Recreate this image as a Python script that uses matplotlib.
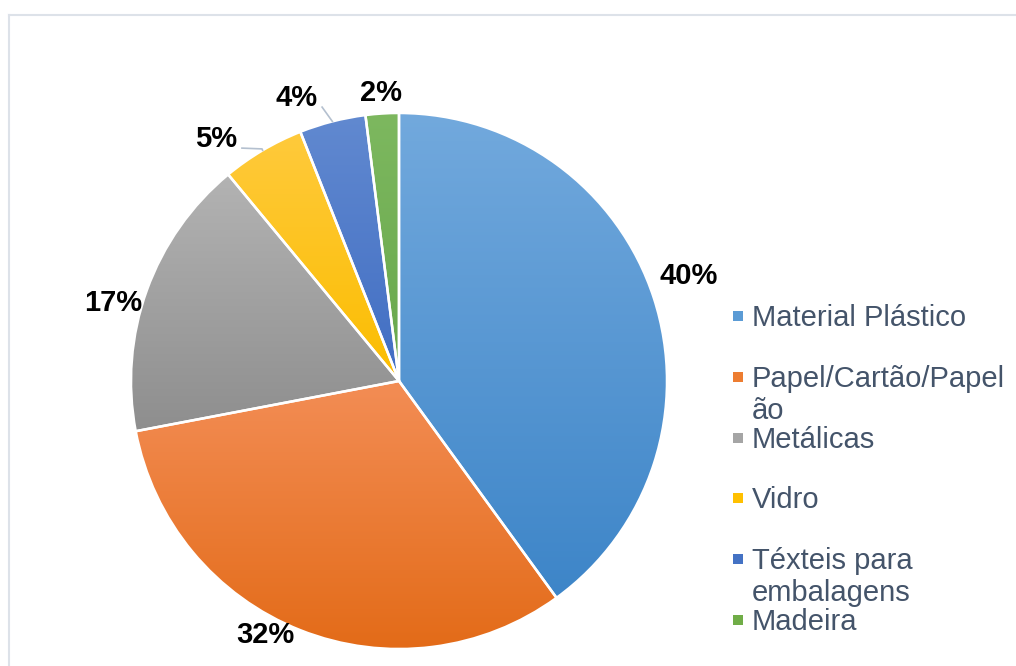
import numpy as np
import matplotlib.pyplot as plt
from matplotlib.colors import LinearSegmentedColormap
from matplotlib.lines import Line2D

plt.rcParams['font.family'] = ['Liberation Sans', 'DejaVu Sans']

# dados
categorias = ['Material Plástico', 'Papel/Cartão/Papelão', 'Metálicas', 'Vidro',
              'Téxteis para embalagens', 'Madeira']
legenda = ['Material Plástico', 'Papel/Cartão/Papel\não', 'Metálicas', 'Vidro',
           'Téxteis para\nembalagens', 'Madeira']
valores = [40, 32, 17, 5, 4, 2]

# cores (topo, base) do gradiente
cor_topo = ['#72a9dd', '#f38d55', '#b3b3b3', '#ffca3c', '#6189d0', '#7db85f']
cor_base = ['#3d85c8', '#e36b18', '#8e8e8e', '#fbbd00', '#416ec3', '#68a74c']
cor_leg = ['#5b9bd5', '#ed7d31', '#a5a5a5', '#ffc000', '#4472c4', '#70ad47']

# posicoes dos rotulos (unidades do raio)
pos_rot = [(1.082, 0.392), (-0.50, -0.948), (-1.067, 0.291),
           (-0.683, 0.903), (-0.384, 1.056), (-0.067, 1.075)]
guias = {3: [(-0.586, 0.869), (-0.511, 0.866)], 4: [(-0.287, 1.022)]}

W, H = 1016, 666
fig = plt.figure(figsize=(W / 100, H / 100), dpi=100)

# moldura (so topo e esquerda visiveis)
fig.add_artist(Line2D([9 / W, 9 / W], [0, 1 - 15 / H], color='#dde2e9', lw=1.5))
fig.add_artist(Line2D([9 / W, 1], [1 - 15 / H, 1 - 15 / H], color='#dde2e9', lw=1.5))

cx, cy, r = 399, 381, 268
ax = fig.add_axes([(cx - r) / W, (H - cy - r) / H, 2 * r / W, 2 * r / H])

wedges, _, autotexts = ax.pie(valores, startangle=90, counterclock=False,
                              colors=cor_leg, radius=1, autopct='%.0f%%',
                              wedgeprops=dict(linewidth=0),
                              textprops=dict(fontsize=21, fontweight='bold', color='black'))

grad = np.linspace(1, 0, 256).reshape(-1, 1)
for i, w in enumerate(wedges):
    bb = w.get_path().get_extents(w.get_patch_transform())
    cmap = LinearSegmentedColormap.from_list('g%d' % i, [cor_base[i], cor_topo[i]])
    im = ax.imshow(grad, cmap=cmap, aspect='auto', extent=[bb.x0, bb.x1, bb.y0, bb.y1],
                   zorder=2, interpolation='bilinear')
    im.set_clip_path(w)

# bordas brancas
bordas, _ = ax.pie(valores, startangle=90, counterclock=False, radius=1,
                   wedgeprops=dict(facecolor='none', edgecolor='white', linewidth=1.8))
for b in bordas:
    b.set_zorder(3)

for i, t in enumerate(autotexts):
    t.set_position(pos_rot[i])
    t.set_zorder(5)
    if i in guias:
        w = wedges[i]
        ang = np.deg2rad((w.theta1 + w.theta2) / 2)
        pts = guias[i] + [(np.cos(ang), np.sin(ang))]
        ax.plot([p[0] for p in pts], [p[1] for p in pts], color='#b4c0cf', lw=1.2,
                zorder=4, clip_on=False)

ax.set_xlim(-1, 1)
ax.set_ylim(-1, 1)
ax.set_aspect('equal')
ax.axis('off')

# legenda
y0, dy = 316, 60.8
for i, lab in enumerate(legenda):
    y = y0 + dy * i
    fig.patches.append(plt.Rectangle((733 / W, 1 - (y + 5) / H), 10 / W, 10 / H,
                                     transform=fig.transFigure, facecolor=cor_leg[i],
                                     edgecolor='none', figure=fig))
    fig.text(752 / W, 1 - (y - 12) / H, lab, fontsize=21, color='#44546a', va='top',
             ha='left', linespacing=1.18)

fig.savefig('out.png', dpi=100)
